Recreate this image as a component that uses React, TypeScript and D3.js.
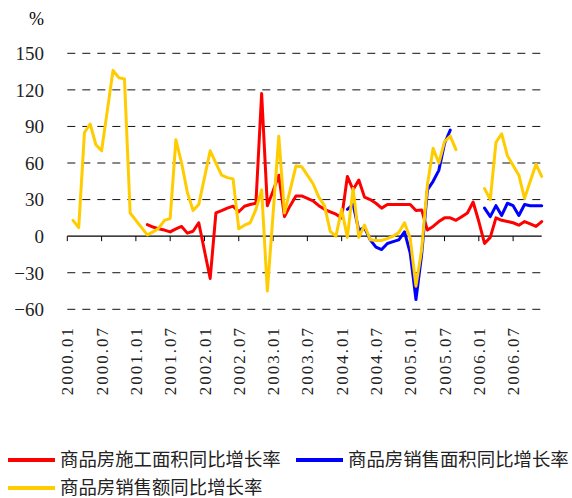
import * as React from "react";
import * as d3 from "d3";

const years = ["2000", "2001", "2002", "2003", "2004", "2005", "2006"];
const months = ["01", "02", "03", "04", "05", "06", "07", "08", "09", "10", "11", "12"];
const categories = years.flatMap((y) => months.map((m) => `${y}.${m}`));

const tickLabels = [
  "2000.01", "2000.07", "2001.01", "2001.07", "2002.01", "2002.07", "2003.01",
  "2003.07", "2004.01", "2004.07", "2005.01", "2005.07", "2006.01", "2006.07",
];

const yTicks = [150, 120, 90, 60, 30, 0, -30, -60];

// 商品房施工面积同比增长率
const constructionArea = [
  null, null, null, null, null, null, null, null, null, null, null, null,
  null, null, 9.5, 7.5, 6, 5, 3.5, 6, 8, 2.5, 4, 11,
  -12, -34.7, 19, 21, 23, 24.6, 20, 24.5, 26, 27, 117, 25,
  37, 50, 16, 25, 33, 33, 31, 29, 25, 22, 20, 18,
  15, 49, 38, 46, 32, 30, 27, 23, 26, 26, 26, 26,
  26, 21, 21.5, 5, 8, 12, 15, 15, 13, 16, 19, 28,
  12, -6, -1, 15, 13, 12, 11, 9, 12, 10, 8, 12,
];

// 商品房销售面积同比增长率
const salesArea = [
  null, null, null, null, null, null, null, null, null, null, null, null,
  null, null, null, null, null, null, null, null, null, null, null, null,
  null, null, null, null, null, null, null, null, null, null, null, null,
  null, null, null, null, null, null, null, null, null, null, null, null,
  null, 22, 26, 5, 7, -3, -9, -11, -6, -4.5, -3, 3.5,
  -14, -52, -15, 38, 45, 54, 76, 87, null, null, null, null,
  null, 23, 16, 25, 17, 27, 25, 17, 26, 25, 25, 25,
];

// 商品房销售额同比增长率
const salesValue = [
  null, 13, 7, 85, 92, 75, 70, 103, 136, 130, 129, 19,
  13, 7, 1, 3.5, 6.5, 13, 14.5, 79, 60, 36, 21, 26,
  48, 70, 60, 50, 48, 47, 6, 9, 11, 22, 38, -45,
  18, 82, 19, 38, 57.5, 57, 50, 43, 32, 25, 4, 0,
  22, -1, 39, -1, 9, -3, -3.5, -3.5, -2, 0, 3, 11,
  -2, -41, -11, 42, 72, 60, 77.5, 82, 71, null, null, null,
  null, 39, 30, 77, 84, 66, 58, 50, 31, 45, 59, 49,
];

const seriesNames = ["商品房施工面积同比增长率", "商品房销售面积同比增长率", "商品房销售额同比增长率"];
const seriesColors = ["#ff0000", "#0000ff", "#ffcc00"];

const width = 572;
const height = 498;
const serif = "'Liberation Serif', 'DejaVu Serif', serif";
const cjk = "'Noto Sans CJK SC', sans-serif";

const App = () => {
  const x = d3.scalePoint<string>().domain(categories).range([67.3, 541.7]);
  const y = d3.scaleLinear().domain([-60, 150]).range([309.3, 53.3]);
  const fmt = d3.format("d");

  const line = d3
    .line<number | null>()
    .defined((d) => d != null)
    .x((_, i) => x(categories[i]) as number)
    .y((d) => y(d as number));

  const series = [constructionArea, salesArea, salesValue];

  return (
    <div style={{ position: "fixed", left: 0, top: 0 }}>
      <svg width={width} height={height} style={{ display: "block", background: "#fff" }}>
        <text x={44} y={25} textAnchor="end" fontFamily={serif} fontSize={18}>
          %
        </text>

        {yTicks.map((t) => (
          <g key={t}>
            {t !== 0 && (
              <line
                x1={67.3}
                x2={541.7}
                y1={y(t)}
                y2={y(t)}
                stroke="#111"
                strokeWidth={1}
                strokeDasharray="8,7"
              />
            )}
            <text
              x={44}
              y={y(t)}
              dy="0.36em"
              textAnchor="end"
              fontFamily={serif}
              fontSize={19}
              fill="#222"
            >
              {fmt(t)}
            </text>
          </g>
        ))}

        <line x1={67.3} x2={541.7} y1={y(0)} y2={y(0)} stroke="#000" strokeWidth={1.2} />
        {tickLabels.map((c) => (
          <g key={c} transform={`translate(${x(c)},0)`}>
            <line y1={y(0)} y2={y(0) + 5} stroke="#000" strokeWidth={1} />
            <text
              transform={`translate(0,326) rotate(-90)`}
              dy="0.36em"
              textAnchor="end"
              fontFamily={serif}
              fontSize={17}
              letterSpacing={2}
              fill="#222"
            >
              {c}
            </text>
          </g>
        ))}

        {series.map((s, k) => (
          <path
            key={k}
            d={line(s) || ""}
            fill="none"
            stroke={seriesColors[k]}
            strokeWidth={3}
            strokeLinejoin="round"
            strokeLinecap="round"
          />
        ))}

        {seriesNames.map((name, k) => {
          const lx = k === 1 ? 296 : 8;
          const ly = k === 2 ? 488 : 460;
          return (
            <g key={name} transform={`translate(${lx},${ly})`}>
              <line x1={0} x2={47} y1={0} y2={0} stroke={seriesColors[k]} strokeWidth={4} />
              <text x={52} dy="0.32em" fontFamily={cjk} fontSize={18.4} fill="#222">
                {name}
              </text>
            </g>
          );
        })}
      </svg>
    </div>
  );
};

export default App;
